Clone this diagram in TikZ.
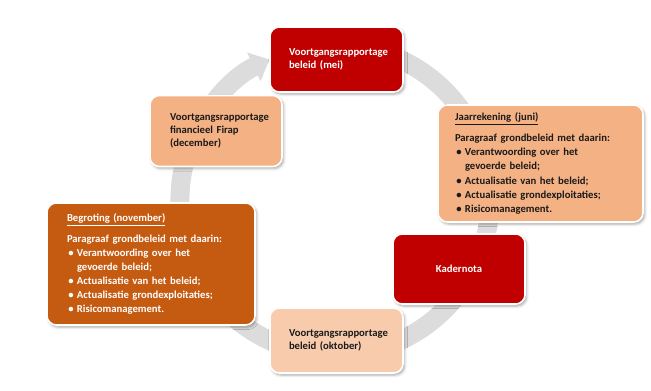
\documentclass[tikz,border=0pt]{standalone}
\usepackage{fontspec}
\setmainfont{Carlito}
\usetikzlibrary{arrows.meta,shadows.blur}
\definecolor{cred}{HTML}{C00000}
\definecolor{corange}{HTML}{F4B183}
\definecolor{cbrown}{HTML}{C55A11}
\definecolor{cpeach}{HTML}{F8CBAD}
\definecolor{cring}{HTML}{DCDCDC}
\definecolor{ctext}{HTML}{1A1A1A}
\tikzset{
 box/.style={rectangle, rounded corners=7pt, draw=white, line width=1.2pt,
   blur shadow={shadow xshift=1.2pt, shadow yshift=-1.5pt, shadow opacity=35, shadow blur radius=2pt},
   font=\fontsize{8}{10}\selectfont\bfseries, align=left, inner ysep=0pt},
 listbox/.style={box, font=\fontsize{8}{10.6}\selectfont\bfseries},
 ringarrow/.style={draw=cring, line width=14.25pt, -{Triangle[width=23pt,length=13pt]}}
}
\newcommand\mybul{\makebox[7.5pt][l]{\hspace*{1pt}\textbullet}}
\newcommand\myind{\hspace*{7.5pt}}
\begin{document}
\begin{tikzpicture}[x=0.75pt,y=-0.75pt]
\useasboundingbox (0,0) rectangle (651,390);
\coordinate (c) at (335,200);
\coordinate (ringstart) at ([shift={(70:116.25pt)}]c);
\draw[ringarrow] (ringstart) arc[start angle=70, end angle=-245, radius=116.25pt];

\node[box, fill=cred, text=white, minimum width=99.75pt, minimum height=48.75pt,
  text width=71.25pt, inner xsep=14.25pt] (mei) at (336.5,59.5)
  {Voortgangsrapportage\\beleid (mei)};

\node[box, fill=corange, text=ctext, minimum width=99pt, minimum height=53.25pt,
  text width=69pt, inner xsep=15pt] (firap) at (216,131)
  {Voortgangsrapportage\\financieel Firap\\(december)};

\node[listbox, fill=corange, text=ctext, minimum width=153.75pt, minimum height=87.75pt,
  text width=128.25pt, inner xsep=12.75pt] (jaar) at (540.5,163.5)
  {\underline{Jaarrekening (juni)}\\[5pt]
   Paragraaf grondbeleid met daarin:\\
   \mybul Verantwoording over het\\
   \myind gevoerde beleid;\\
   \mybul Actualisatie van het beleid;\\
   \mybul Actualisatie grondexploitaties;\\
   \mybul Risicomanagement.};

\node[listbox, fill=cbrown, text=white, minimum width=156pt, minimum height=91.5pt,
  text width=126pt, inner xsep=15pt] (begr) at (151,264)
  {\underline{Begroting (november)}\\[5pt]
   Paragraaf grondbeleid met daarin:\\
   \mybul Verantwoording over het\\
   \myind gevoerde beleid;\\
   \mybul Actualisatie van het beleid;\\
   \mybul Actualisatie grondexploitaties;\\
   \mybul Risicomanagement.};

\node[box, fill=cred, text=white, minimum width=99pt, minimum height=52.5pt,
  align=center] (kader) at (459,269) {Kadernota};

\node[box, fill=cpeach, text=ctext, minimum width=99.75pt, minimum height=48.75pt,
  text width=71.25pt, inner xsep=14.25pt] (okt) at (336.5,340.5)
  {Voortgangsrapportage\\beleid (oktober)};
\end{tikzpicture}
\end{document}
